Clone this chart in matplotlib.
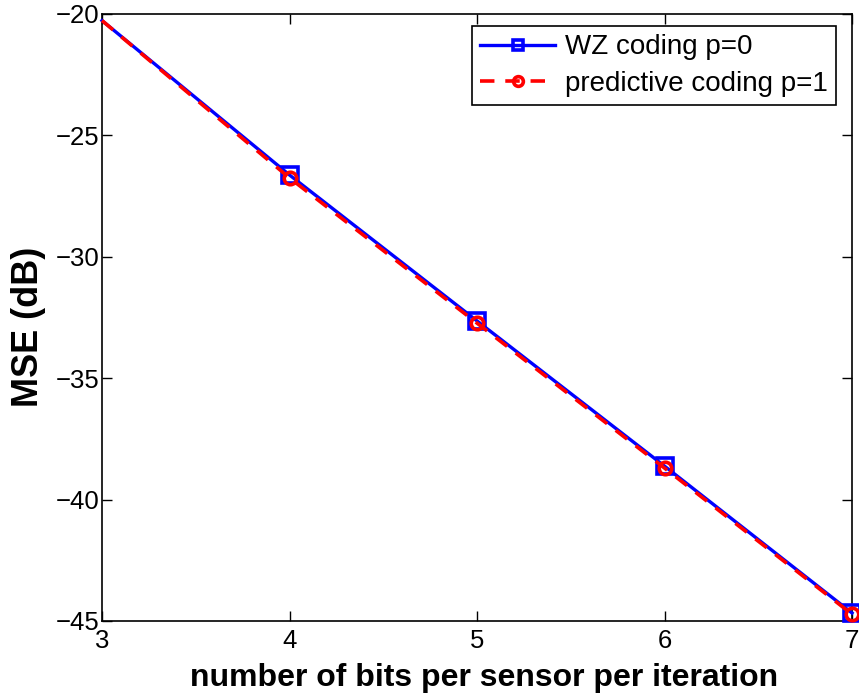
import matplotlib
matplotlib.use("Agg")
import matplotlib.pyplot as plt

bits = [3, 4, 5, 6, 7]
mse_wz = [-20.27, -26.63, -32.64, -38.62, -44.67]
mse_pred = [-20.27, -26.75, -32.73, -38.70, -44.72]
xticks = [3, 4, 5, 6, 7]
yticks = [-45, -40, -35, -30, -25, -20]

plt.rcParams['font.family'] = ['Liberation Sans', 'DejaVu Sans']

fig = plt.figure(figsize=(8.59, 6.98), dpi=100)
ax = fig.add_axes([102/859, 1-621/698, 750/859, 607/698])

ax.plot(bits, mse_wz, color='#0000ff', linewidth=2.4, marker='s',
        markersize=11, markerfacecolor='none', markeredgewidth=2.6,
        markevery=slice(1, None), label='WZ coding p=0', clip_on=False, zorder=3)
ax.plot(bits, mse_pred, color='#ff0000', linewidth=2.6, linestyle=(0, (4, 3)),
        marker='o', markersize=9, markerfacecolor='none', markeredgewidth=2.6,
        markevery=slice(1, None), label='predictive coding p=1', clip_on=False, zorder=4)

ax.set_xlim(3, 7)
ax.set_ylim(-45, -20)
ax.set_xticks(xticks)
ax.set_yticks(yticks)
ax.set_yticklabels(['\u2212' + str(abs(v)) for v in yticks])
ax.tick_params(direction='in', length=7, width=1, labelsize=18.5, top=True, right=True)
ax.tick_params(axis='x', pad=6)
ax.tick_params(axis='y', pad=2)
for s in ax.spines.values():
    s.set_linewidth(1.2)

ax.set_xlabel('number of bits per sensor per iteration', fontsize=23, fontweight='bold')
ax.xaxis.set_label_coords((484-102)/750, -(678-621)/607, transform=ax.transAxes)
ax.xaxis.label.set_va('center')
ax.set_ylabel('MSE (dB)', fontsize=26, fontweight='bold')
ax.yaxis.set_label_coords(-(102-28)/750, (621-327)/607, transform=ax.transAxes)
ax.yaxis.label.set_va('center')

leg = ax.legend(loc='upper right', fontsize=20, frameon=True, fancybox=False,
                edgecolor='black', framealpha=1, handlelength=2.7, borderpad=0.3,
                labelspacing=0.37, handletextpad=0.35, borderaxespad=0)
leg.set_bbox_to_anchor(((836-102)/750, 1 - 12/607), transform=ax.transAxes)
leg.get_frame().set_linewidth(1.2)
for h in leg.legend_handles:
    h.set_markersize(7)

fig.savefig('out.png', dpi=100)
